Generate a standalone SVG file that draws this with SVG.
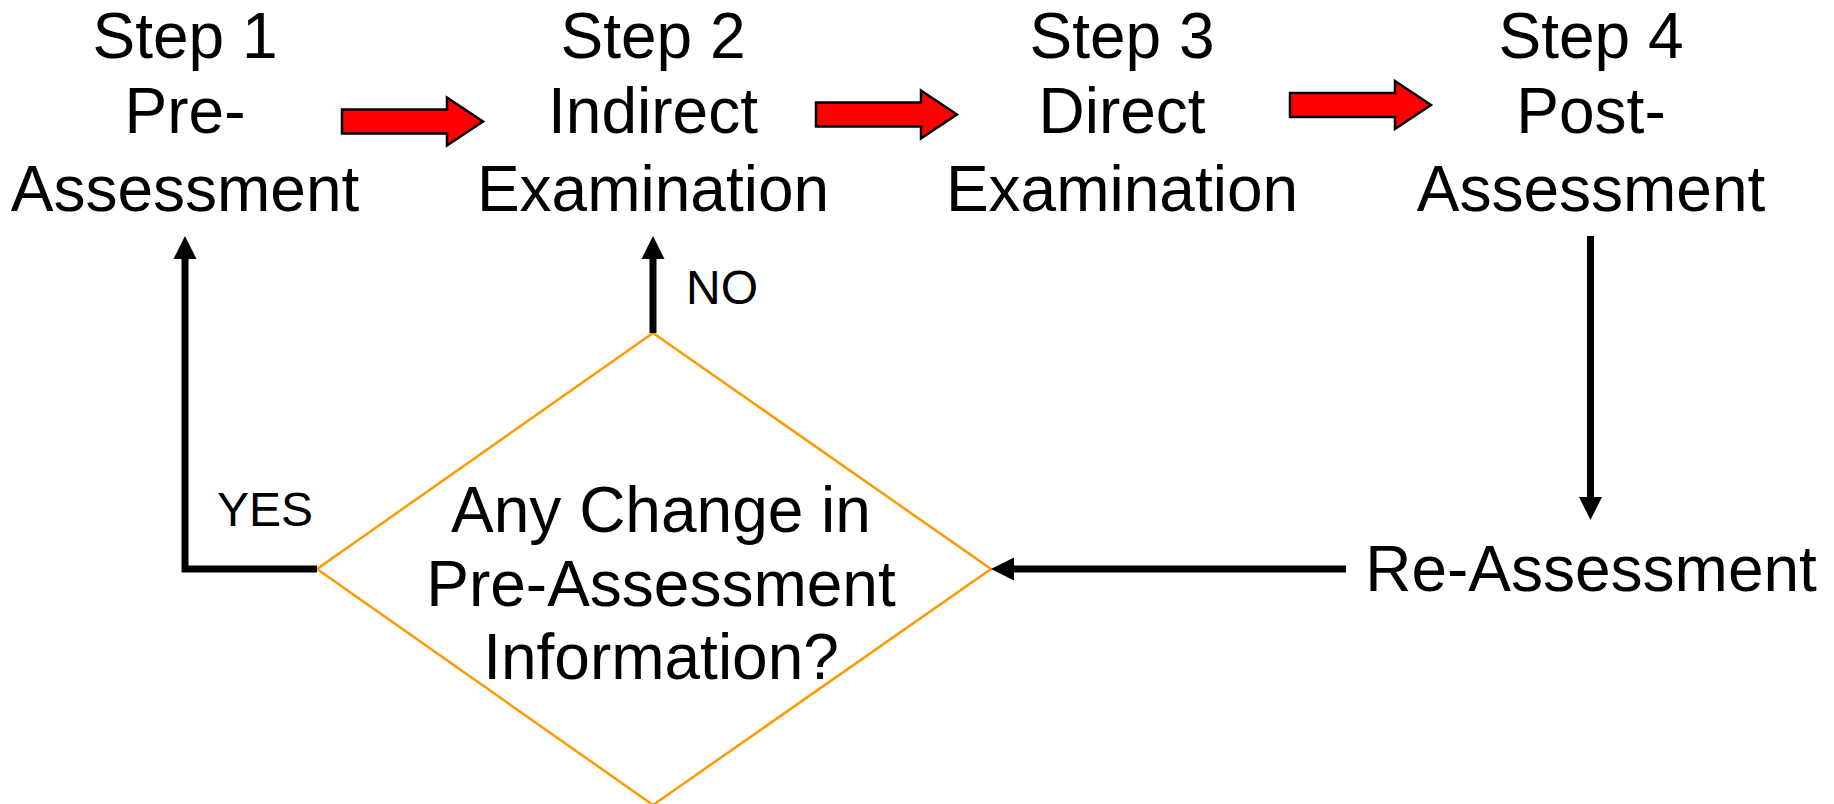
<svg xmlns="http://www.w3.org/2000/svg" width="1834" height="804" viewBox="0 0 1834 804">
<style>
  .t { font-family: "Liberation Sans", Arial, sans-serif; fill: #000; }
  .big { font-size: 64px; text-anchor: middle; }
  .lbl { font-size: 48px; }
  .red { fill: #FF0000; stroke: #000; stroke-width: 2.5; stroke-linejoin: miter; }
  .con { fill: none; stroke: #000; stroke-width: 7; stroke-linejoin: miter; marker-end: url(#head); }
  .dia { fill: #fff; stroke: #FF9900; stroke-width: 2.5; }
</style>
<defs>
  <marker id="head" markerUnits="userSpaceOnUse" viewBox="0 0 23 23" markerWidth="23" markerHeight="23" refX="0" refY="11.5" orient="auto" overflow="visible">
    <path d="M0,0 L23,11.5 L0,23 Z" fill="#000"/>
  </marker>
</defs>

<g id="step1">
  <text class="t big" x="185" y="58">Step 1</text>
  <text class="t big" x="185" y="133">Pre-</text>
  <text class="t big" x="185" y="211">Assessment</text>
</g>
<g id="step2">
  <text class="t big" x="653" y="58">Step 2</text>
  <text class="t big" x="653" y="133">Indirect</text>
  <text class="t big" x="653" y="211">Examination</text>
</g>
<g id="step3">
  <text class="t big" x="1122" y="58">Step 3</text>
  <text class="t big" x="1122" y="133">Direct</text>
  <text class="t big" x="1122" y="211">Examination</text>
</g>
<g id="step4">
  <text class="t big" x="1591" y="58">Step 4</text>
  <text class="t big" x="1591" y="133">Post-</text>
  <text class="t big" x="1591" y="211">Assessment</text>
</g>
<g id="reassessment">
  <text class="t big" x="1591" y="591">Re-Assessment</text>
</g>
<g id="decision">
  <polygon class="dia" points="653,333 991,569 653,805 317,569"/>
  <text class="t big" x="661" y="532">Any Change in</text>
  <text class="t big" x="661" y="606">Pre-Assessment</text>
  <text class="t big" x="661" y="679">Information?</text>
</g>

<g id="connectors">
  <polygon class="red" points="342,109.5 447,109.5 447,97.5 483,121.5 447,145.5 447,133.5 342,133.5"/>
  <polygon class="red" points="816,102.5 921,102.5 921,90.5 957,114.5 921,138.5 921,126.5 816,126.5"/>
  <polygon class="red" points="1290,93 1395,93 1395,81 1431,105 1395,129 1395,117 1290,117"/>
  <polyline class="con" points="317,569 185,569 185,259"/>
  <line class="con" x1="653" y1="333" x2="653" y2="259"/>
  <line class="con" x1="1590.5" y1="236" x2="1590.5" y2="497"/>
  <line class="con" x1="1346" y1="569" x2="1014" y2="569"/>
  <text class="t lbl" x="217" y="526">YES</text>
  <text class="t lbl" x="686" y="303.5">NO</text>
</g>
</svg>
